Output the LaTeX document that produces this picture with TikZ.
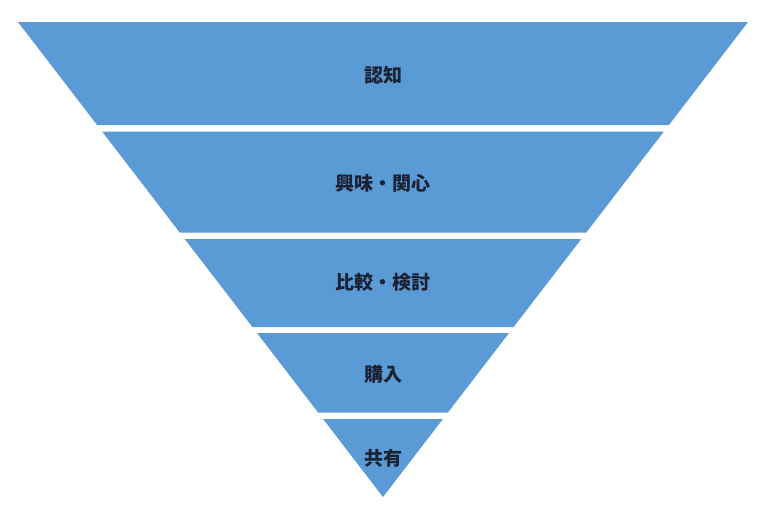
\documentclass[tikz,border=0pt]{standalone}
\usepackage{fontspec}
\usepackage{xcolor}
\usepackage{tikz}
\newfontfamily\jpfont{Noto Sans CJK JP}
\definecolor{funnelblue}{HTML}{5B9BD5}
\definecolor{funneltext}{HTML}{1B2233}

\begin{document}
\begin{tikzpicture}[
  x=1pt, y=-1pt,
  band/.style={fill=funnelblue},
  label/.style={text=funneltext, font=\jpfont\bfseries\fontsize{19}{22}\selectfont, inner sep=0pt}
]
\useasboundingbox[fill=white] (0,0) rectangle (768,512);
% funnel bands, top to bottom
\fill[band] (18,22) -- (748,22) -- (668.9,125) -- (97.1,125) -- cycle;
\fill[band] (102.1,131.5) -- (663.9,131.5) -- (586.3,232.5) -- (179.7,232.5) -- cycle;
\fill[band] (184.7,239) -- (581.3,239) -- (513.6,327) -- (252.4,327) -- cycle;
\fill[band] (257.0,333) -- (509.0,333) -- (447.9,412.5) -- (318.1,412.5) -- cycle;
\fill[band] (323.1,419) -- (442.9,419) -- (383,497) -- cycle;
% stage labels
\node[label] (awareness) at (383,75) {認知};
\node[label] (interest) at (383,183) {興味・関心};
\node[label] (compare) at (383,282) {比較・検討};
\node[label] (purchase) at (383,374) {購入};
\node[label] (share) at (383,458) {共有};
\end{tikzpicture}
\end{document}
